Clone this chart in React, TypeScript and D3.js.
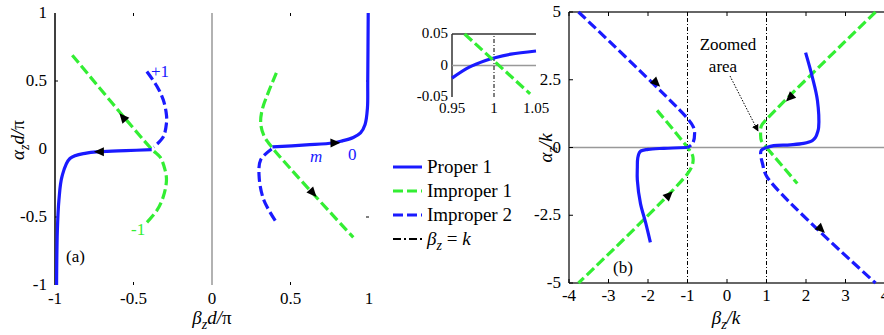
import React from 'react';
import * as d3 from 'd3';

type Pt = [number, number];

// ---- panel (a): alpha_z d/pi vs beta_z d/pi ----
const properA1: Pt[] = [[-0.99, -1], [-0.985, -0.6], [-0.975, -0.375], [-0.955, -0.2], [-0.905, -0.07], [-0.8, -0.03], [-0.714, -0.02], [-0.55, -0.012], [-0.384, -0.005]];
const properA2: Pt[] = [[0.385, 0.015], [0.6, 0.03], [0.77, 0.044], [0.83, 0.06], [0.9, 0.085], [0.946, 0.118], [0.975, 0.18], [0.99, 0.3], [0.992, 0.5], [0.995, 1.0]];
const improper1A1: Pt[] = [[-0.89, 0.69], [-0.385, 0.0], [-0.33, -0.06], [-0.3, -0.15], [-0.29, -0.23], [-0.31, -0.35], [-0.35, -0.45], [-0.415, -0.54]];
const improper1A2: Pt[] = [[0.41, 0.56], [0.36, 0.42], [0.32, 0.29], [0.31, 0.19], [0.33, 0.1], [0.38, 0.015], [0.9, -0.65]];
const improper2A1: Pt[] = [[-0.415, 0.57], [-0.35, 0.46], [-0.31, 0.36], [-0.29, 0.25], [-0.29, 0.19], [-0.31, 0.09], [-0.37, 0.015]];
const improper2A2: Pt[] = [[0.38, 0.0], [0.31, -0.08], [0.3, -0.2], [0.33, -0.375], [0.41, -0.54]];
// arrow markers: position + direction (data units)
const arrowsA = [
  { x: -0.714, y: -0.02, dx: -1, dy: 0 },
  { x: -0.565, y: 0.23, dx: -0.505, dy: 0.69 },
  { x: 0.78, y: 0.044, dx: 1, dy: 0.03 },
  { x: 0.64, y: -0.32, dx: 0.52, dy: -0.665 },
];
const ticksA = [-1, -0.5, 0, 0.5, 1];

// ---- inset ----
const properInset: Pt[] = [[0.95, -0.02], [0.97, -0.003], [0.99, 0.008], [1.0, 0.012], [1.02, 0.018], [1.05, 0.023]];
const improper1Inset: Pt[] = [[0.965, 0.05], [1.043, -0.045]];
const insetXTicks = [0.95, 1, 1.05];
const insetYTicks = [-0.05, 0, 0.05];

// ---- panel (b): alpha_z/k vs beta_z/k ----
const properB1: Pt[] = [[-1, 0], [-1.6, -0.03], [-2.0, -0.07], [-2.2, -0.15], [-2.26, -0.4], [-2.27, -0.73], [-2.27, -1.2], [-2.19, -2.07], [-2.06, -2.77], [-1.94, -3.5]];
const properB2: Pt[] = [[1, 0], [1.18, 0.07], [1.6, 0.1], [1.94, 0.15], [2.16, 0.25], [2.24, 0.37], [2.3, 0.6], [2.32, 0.74], [2.29, 1.73], [2.16, 2.6], [1.99, 3.5]];
const improper1B1: Pt[] = [[-1.77, 1.37], [-1.0, 0], [-0.87, -0.3], [-0.87, -0.6], [-1.0, -0.97], [-3.76, -5]];
const improper1B2: Pt[] = [[3.76, 5], [1.02, 1.07], [0.87, 0.8], [0.85, 0.5], [0.87, 0.25], [1.0, 0]];
const improper1B3: Pt[] = [[1.0, 0], [1.78, -1.33]];
const improper2B1: Pt[] = [[-3.76, 5], [-1.0, 1.07], [-0.85, 0.75], [-0.82, 0.52], [-0.87, 0.15], [-1.0, 0]];
const improper2B2: Pt[] = [[1, 0], [0.87, -0.1], [0.85, -0.22], [0.9, -0.6], [1.02, -1.1], [3.76, -5]];
const arrowsB = [
  { x: -1.8, y: 2.4, dx: 2.76, dy: -3.93 },
  { x: -1.48, y: -1.77, dx: 2.76, dy: 4.03 },
  { x: 1.6, y: 1.85, dx: -2.74, dy: -3.93 },
  { x: 2.37, y: -3.0, dx: 2.74, dy: -3.9 },
];
const ticksBX = [-4, -3, -2, -1, 0, 1, 2, 3, 4];
const ticksBY = [-5, -2.5, 0, 2.5, 5];
const kLines = [-1, 1];

const legendItems = [
  { label: 'Proper 1', color: '#1a1aff', dash: '' },
  { label: 'Improper 1', color: '#33ee33', dash: '10,4' },
  { label: 'Improper 2', color: '#1a1aff', dash: '10,4' },
  { label: 'beta', color: '#000', dash: '8,3,2,3' },
];

const BLUE = '#1a1aff';
const GREEN = '#33ee33';
const FONT = '"Liberation Serif", "Times New Roman", "DejaVu Serif", serif';

const Arrow = ({ px, py, ang }: { px: number; py: number; ang: number }) => (
  <path d="M6,0 L-4,-4.5 L-4,4.5 Z" fill="#000" transform={`translate(${px},${py}) rotate(${ang})`} />
);

export default function App() {
  const xa = d3.scaleLinear().domain([-1, 1]).range([55, 369]);
  const ya = d3.scaleLinear().domain([-1, 1]).range([285, 13]);
  const xi = d3.scaleLinear().domain([0.95, 1.05]).range([452, 536]);
  const yi = d3.scaleLinear().domain([-0.05, 0.05]).range([97, 34]);
  const xb = d3.scaleLinear().domain([-4, 4]).range([569, 885]);
  const yb = d3.scaleLinear().domain([-5, 5]).range([283, 12]);

  const mk = (sx: d3.ScaleLinear<number, number>, sy: d3.ScaleLinear<number, number>) =>
    d3.line<Pt>().x(d => sx(d[0])).y(d => sy(d[1])).curve(d3.curveCatmullRom.alpha(0.5));
  const la = mk(xa, ya);
  const li = mk(xi, yi);
  const lb = mk(xb, yb);

  const ang = (sx: any, sy: any, a: { x: number; y: number; dx: number; dy: number }) => {
    const vx = sx(a.x + a.dx * 0.01) - sx(a.x);
    const vy = sy(a.y + a.dy * 0.01) - sy(a.y);
    return (Math.atan2(vy, vx) * 180) / Math.PI;
  };

  const seg = (d: string | null, color: string, dash: string, w = 3.2) => (
    <path d={d || ''} fill="none" stroke={color} strokeWidth={w} strokeDasharray={dash || undefined} />
  );

  return (
    <svg width={884} height={335} style={{ position: 'absolute', left: 0, top: 0, background: '#fff', fontFamily: FONT }}>
      {/* ---------- panel (a) ---------- */}
      <line x1={xa(-1)} x2={xa(-1)} y1={ya(-1)} y2={ya(1)} stroke="#000" strokeWidth={1.5} />
      <line x1={xa(0)} x2={xa(0)} y1={ya(-1)} y2={ya(1)} stroke="#999" strokeWidth={1.5} />
      {[-0.5, 0.5].map(t => (
        <g key={t}>
          <line x1={xa(t)} x2={xa(t)} y1={ya(1)} y2={ya(1) + 3} stroke="#000" />
          <line x1={xa(t)} x2={xa(t)} y1={ya(-1)} y2={ya(-1) - 3} stroke="#000" />
          <line x1={xa(1)} x2={xa(1) - 3} y1={ya(t)} y2={ya(t)} stroke="#000" />
          <line x1={xa(-1)} x2={xa(-1) + 3} y1={ya(t)} y2={ya(t)} stroke="#000" />
        </g>
      ))}
      {ticksA.map(t => (
        <text key={'ax' + t} x={xa(t)} y={304} fontSize={17} textAnchor="middle">{t}</text>
      ))}
      {ticksA.map(t => (
        <text key={'ay' + t} x={47} y={ya(t) + 5} fontSize={17} textAnchor="end">{t}</text>
      ))}
      <text x={212} y={324} fontSize={19} textAnchor="middle" fontStyle="italic">
        β<tspan fontSize={14} dy={5}>z</tspan><tspan dy={-5}>d/</tspan><tspan fontStyle="normal">π</tspan>
      </text>
      <text transform="translate(24,140) rotate(-90)" fontSize={19} textAnchor="middle" fontStyle="italic">
        α<tspan fontSize={14} dy={5}>z</tspan><tspan dy={-5}>d/</tspan><tspan fontStyle="normal">π</tspan>
      </text>

      {seg(la(improper1A1), GREEN, '10,4')}
      {seg(la(improper1A2), GREEN, '10,4')}
      {seg(la(improper2A1), BLUE, '10,4')}
      {seg(la(improper2A2), BLUE, '10,4')}
      {seg(la(properA1), BLUE, '')}
      {seg(la(properA2), BLUE, '')}
      {arrowsA.map((a, i) => (
        <Arrow key={i} px={xa(a.x)} py={ya(a.y)} ang={ang(xa, ya, a)} />
      ))}
      <text x={151} y={77} fontSize={17} fill={BLUE}>+1</text>
      <text x={131} y={235} fontSize={17} fill={GREEN}>-1</text>
      <text x={310} y={162} fontSize={17} fill={BLUE} fontStyle="italic">m</text>
      <text x={348} y={160} fontSize={17} fill={BLUE}>0</text>
      <text x={66} y={262} fontSize={17}>(a)</text>

      {/* ---------- inset ---------- */}
      <line x1={xi(0.95)} x2={xi(1.05)} y1={yi(0.05)} y2={yi(0.05)} stroke="#333" strokeWidth={1.5} />
      <line x1={xi(0.95)} x2={xi(0.95)} y1={yi(-0.05)} y2={yi(0.05)} stroke="#333" strokeWidth={1.5} />
      <line x1={xi(0.95)} x2={xi(1.05)} y1={yi(0)} y2={yi(0)} stroke="#999" strokeWidth={1.5} />
      <line x1={xi(1)} x2={xi(1)} y1={yi(-0.05)} y2={yi(0.05)} stroke="#000" strokeDasharray="4,2,1,2" />
      {seg(li(properInset), BLUE, '')}
      {seg(li(improper1Inset), GREEN, '10,4')}
      {insetYTicks.map(t => (
        <text key={'iy' + t} x={448} y={yi(t) + 4} fontSize={15} textAnchor="end">{t}</text>
      ))}
      {insetXTicks.map(t => (
        <text key={'ix' + t} x={xi(t)} y={113} fontSize={15} textAnchor="middle">{t}</text>
      ))}

      {/* ---------- legend ---------- */}
      {legendItems.map((l, i) => (
        <g key={l.label} transform={`translate(393,${167 + i * 24})`}>
          <line x1={0} x2={29} y1={0} y2={0} stroke={l.color} strokeWidth={l.label === 'beta' ? 2 : 3} strokeDasharray={l.dash || undefined} />
          {l.label === 'beta' ? (
            <text x={34} y={6} fontSize={19} fontStyle="italic">
              β<tspan fontSize={14} dy={5}>z</tspan><tspan dy={-5} fontStyle="normal"> = </tspan>k
            </text>
          ) : (
            <text x={34} y={6} fontSize={19}>{l.label}</text>
          )}
        </g>
      ))}

      {/* ---------- panel (b) ---------- */}
      <line x1={xb(-4)} x2={xb(4)} y1={yb(5)} y2={yb(5)} stroke="#333" strokeWidth={1.5} />
      <line x1={xb(-4)} x2={xb(4)} y1={yb(-5)} y2={yb(-5)} stroke="#333" strokeWidth={1.5} />
      <line x1={xb(-4)} x2={xb(-4)} y1={yb(-5)} y2={yb(5)} stroke="#333" strokeWidth={1.5} />
      <line x1={xb(-4)} x2={xb(4)} y1={yb(0)} y2={yb(0)} stroke="#999" strokeWidth={1.5} />
      {kLines.map(k => (
        <line key={k} x1={xb(k)} x2={xb(k)} y1={yb(-5)} y2={yb(5)} stroke="#000" strokeDasharray="4,2,1,2" />
      ))}
      {ticksBX.map(t => (
        <g key={'bx' + t}>
          <line x1={xb(t)} x2={xb(t)} y1={yb(5)} y2={yb(5) + 4} stroke="#000" />
          <line x1={xb(t)} x2={xb(t)} y1={yb(-5)} y2={yb(-5) - 4} stroke="#000" />
          <text x={xb(t)} y={301} fontSize={17} textAnchor="middle">{t}</text>
        </g>
      ))}
      {ticksBY.map(t => (
        <g key={'by' + t}>
          <line x1={xb(-4)} x2={xb(-4) + 4} y1={yb(t)} y2={yb(t)} stroke="#000" />
          <text x={561} y={yb(t) + 5} fontSize={17} textAnchor="end">{t}</text>
        </g>
      ))}
      <text x={726} y={324} fontSize={19} textAnchor="middle" fontStyle="italic">
        β<tspan fontSize={14} dy={5}>z</tspan><tspan dy={-5}>/k</tspan>
      </text>
      <text transform="translate(552,148) rotate(-90)" fontSize={19} textAnchor="middle" fontStyle="italic">
        α<tspan fontSize={14} dy={5}>z</tspan><tspan dy={-5}>/k</tspan>
      </text>

      {seg(lb(improper1B1), GREEN, '10,4')}
      {seg(lb(improper1B2), GREEN, '10,4')}
      {seg(lb(improper1B3), GREEN, '10,4')}
      {seg(lb(improper2B1), BLUE, '10,4')}
      {seg(lb(improper2B2), BLUE, '10,4')}
      {seg(lb(properB1), BLUE, '')}
      {seg(lb(properB2), BLUE, '')}
      {arrowsB.map((a, i) => (
        <Arrow key={i} px={xb(a.x)} py={yb(a.y)} ang={ang(xb, yb, a)} />
      ))}
      <text x={728} y={50} fontSize={17} textAnchor="middle">Zoomed</text>
      <text x={723} y={72} fontSize={17} textAnchor="middle">area</text>
      <defs>
        <marker id="ah" viewBox="0 0 10 10" refX={9} refY={5} markerWidth={7} markerHeight={7} orient="auto">
          <path d="M0,0 L10,5 L0,10 Z" fill="#000" />
        </marker>
      </defs>
      <line x1={730} y1={76} x2={758} y2={131} stroke="#000" strokeWidth={1} strokeDasharray="1.5,1.5" markerEnd="url(#ah)" />
      <text x={613} y={273} fontSize={17}>(b)</text>
    </svg>
  );
}
